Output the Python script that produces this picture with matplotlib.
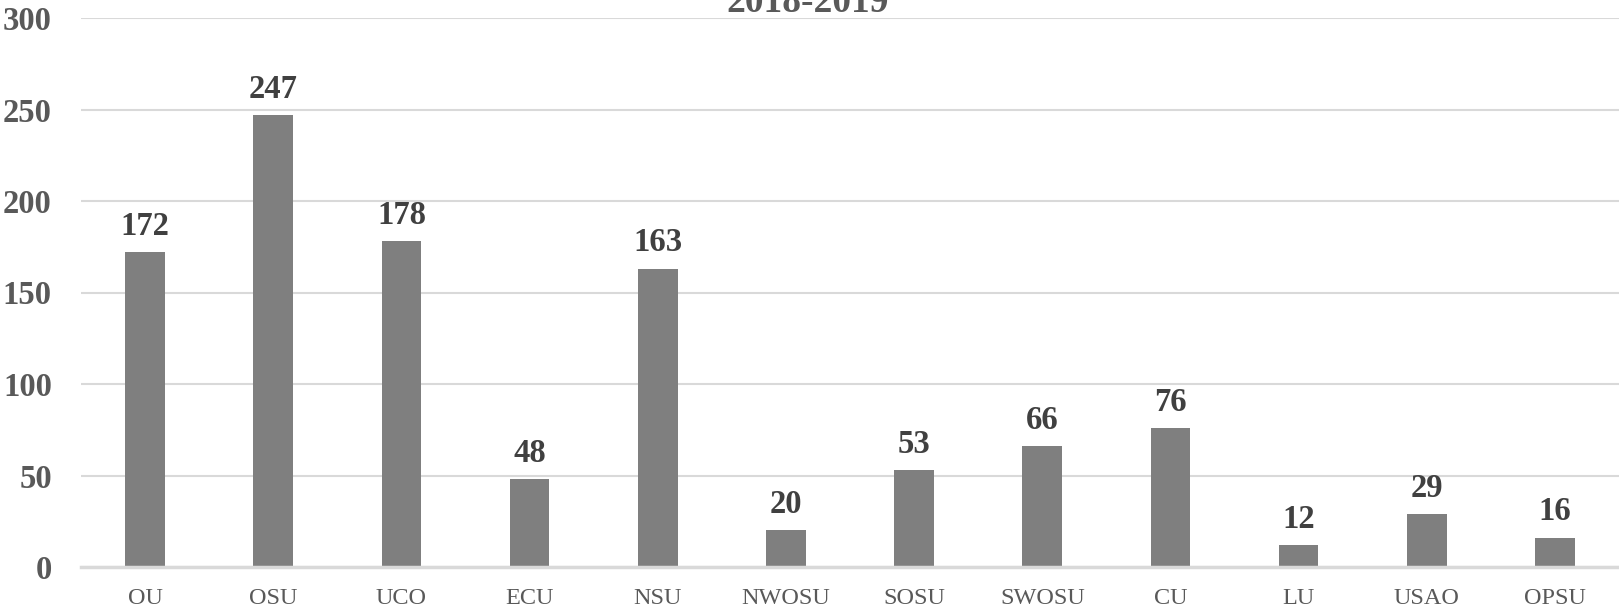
import matplotlib
matplotlib.use("Agg")
import matplotlib.pyplot as plt
import numpy as np

schools = ["OU", "OSU", "UCO", "ECU", "NSU", "NWOSU", "SOSU", "SWOSU",
           "CU", "LU", "USAO", "OPSU"]
counts = [172, 247, 178, 48, 163, 20, 53, 66, 76, 12, 29, 16]
yticks = [0, 50, 100, 150, 200, 250, 300]
title = "2018-2019"

plt.rcParams["font.family"] = ["Liberation Serif", "DejaVu Serif"]

W, H = 1619, 610
fig = plt.figure(figsize=(W / 100, H / 100), dpi=100)
ax = fig.add_axes([81 / W, 1 - 567 / H, 1 - 81 / W, (567 - 18) / H])

x = np.arange(len(schools))
bars = ax.bar(x, counts, width=0.31, color="#7f7f7f", zorder=3)

for xi, v in zip(x, counts):
    ax.annotate(str(v), (xi, v), xytext=(0, 7.5), textcoords="offset points",
                ha="center", va="bottom", fontsize=23.5, fontweight="bold",
                color="#404040")

ax.set_xlim(-0.5, len(schools) - 0.5)
ax.set_ylim(0, 300)
ax.set_yticks(yticks)
ax.set_yticklabels([str(t) for t in yticks], fontsize=23.5,
                   fontweight="bold", color="#595959")
ax.set_xticks(x)
ax.set_xticklabels(schools, fontsize=17.5, color="#595959")
ax.tick_params(axis="y", length=0, pad=21)
ax.tick_params(axis="x", length=0, pad=15)

ax.grid(axis="y", color="#d9d9d9", linewidth=1.5, zorder=0)
for s in ["top", "right", "left"]:
    ax.spines[s].set_visible(False)
ax.spines["bottom"].set_color("#d9d9d9")
ax.spines["bottom"].set_linewidth(2.5)
ax.spines["bottom"].set_zorder(4)

fig.text(808 / W, 1 - 12 / H, title, ha="center", va="baseline",
         fontsize=27, fontweight="bold", color="#595959")

fig.savefig("out.png", dpi=100)
